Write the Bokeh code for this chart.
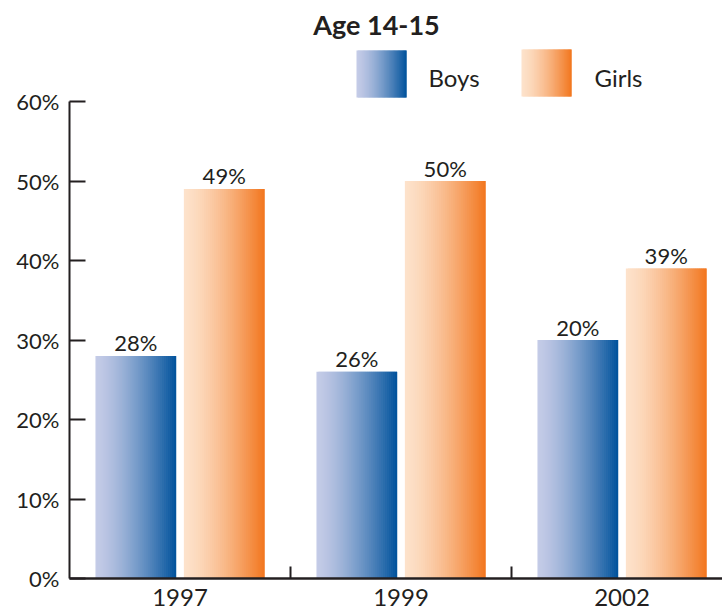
from bokeh.plotting import figure
from bokeh.models import Range1d, FixedTicker, ColumnDataSource
from bokeh.core.properties import value
from bokeh.embed import file_html
from bokeh.resources import INLINE

# ---- data ----
years = ["1997", "1999", "2002"]
boys = [28, 26, 30]
girls = [49, 50, 39]
boys_labels = ["28%", "26%", "20%"]
girls_labels = ["49%", "50%", "39%"]
y_ticks = [0, 10, 20, 30, 40, 50, 60]
y_tick_labels = ["0%", "10%", "20%", "30%", "40%", "50%", "60%"]
series_names = ["Boys", "Girls"]
title_text = "Age 14-15"

# ---- layout / style ----
FONT = "Lato"
TXT = "#231f20"
W, H = 722, 613
LEFT, BOTTOM = 69, 35
PX_X, PX_Y = 221.0, 7.95          # pixels per data unit
ORIGIN_X, ORIGIN_Y = 69, 578       # page pixel of data (0, 0)
BAR_W = 0.365
DODGE = 0.2
N = 40
BOY_C = ((196, 203, 231), (0, 82, 156))
GIRL_C = ((253, 226, 203), (242, 118, 30))
GAMMA = 1.4
BASE_FIX = 8                       # baseline correction in px


def dx(px):
    return (px - ORIGIN_X) / PX_X


def dy(py):
    return (ORIGIN_Y - py) / PX_Y


def mix(c0, c1, t):
    t = t ** GAMMA
    return "#%02x%02x%02x" % tuple(int(round(a + (b - a) * t)) for a, b in zip(c0, c1))


x_end = (W - LEFT) / PX_X
y_end = (H - BOTTOM) / PX_Y

p = figure(width=W, height=H, output_backend="svg", toolbar_location=None,
           x_range=Range1d(0, x_end), y_range=Range1d(0, y_end),
           min_border_left=LEFT, min_border_right=0, min_border_top=0,
           min_border_bottom=BOTTOM, background_fill_color="white",
           border_fill_color="white")
p.outline_line_color = None
p.xgrid.visible = False
p.ygrid.visible = False


def gradient_quads(x0, x1, y0, y1, cols):
    """x0..x1, y0..y1 in data units; returns lists for strips"""
    sw = (x1 - x0) / N
    out = []
    for k in range(N):
        l = x0 + k * sw
        r = min(x0 + (k + 2) * sw, x1)
        out.append((l, r, y1, y0, mix(cols[0], cols[1], (k + 0.5) / N)))
    return out


def draw_strips(rows):
    src = ColumnDataSource(dict(left=[r[0] for r in rows], right=[r[1] for r in rows],
                                top=[r[2] for r in rows], bottom=[r[3] for r in rows],
                                color=[r[4] for r in rows]))
    p.quad(left="left", right="right", top="top", bottom="bottom",
           fill_color="color", line_color=None, source=src)


for vals, off, cols in ((boys, -DODGE, BOY_C), (girls, DODGE, GIRL_C)):
    rows = []
    for i, v in enumerate(vals):
        c = i + 0.5 + off
        rows += gradient_quads(c - BAR_W / 2, c + BAR_W / 2, 0, v, cols)
    draw_strips(rows)

# value labels
for vals, labels, off in ((boys, boys_labels, -DODGE), (girls, girls_labels, DODGE)):
    src = ColumnDataSource(dict(x=[i + 0.5 + off for i in range(len(vals))], y=vals, t=labels))
    p.text(x="x", y="y", text="t", source=src, text_align="center",
           text_baseline="alphabetic", y_offset=-(5 + BASE_FIX), text_font=value(FONT),
           text_font_size="22px", text_color=TXT)

# legend (gradient swatches)
leg = [(series_names[0], BOY_C, 356, 406, 50, 97, 428),
       (series_names[1], GIRL_C, 521, 571, 49, 96, 594)]
for name, cols, x0, x1, y0, y1, tx in leg:
    draw_strips(gradient_quads(dx(x0), dx(x1), dy(y1), dy(y0), cols))
    p.text(x=[dx(tx)], y=[dy(85)], text=[name], text_align="left",
           text_baseline="alphabetic", y_offset=-BASE_FIX, text_font=value(FONT),
           text_font_size="24px", text_color=TXT)

# title
p.text(x=[dx(376)], y=[dy(32)], text=[title_text], text_align="center",
       text_baseline="alphabetic", y_offset=-BASE_FIX, text_font=value(FONT),
       text_font_style="bold", text_font_size="27px", text_color=TXT)

# y axis
ya = p.yaxis[0]
ya.ticker = FixedTicker(ticks=y_ticks)
ya.major_label_overrides = {t: s for t, s in zip(y_ticks, y_tick_labels)}
ya.bounds = (0, 60)
ya.axis_line_width = 2
ya.axis_line_color = TXT
ya.major_tick_in = 16
ya.major_tick_out = 0
ya.major_tick_line_width = 2
ya.major_tick_line_color = TXT
ya.minor_tick_line_color = None
ya.major_label_text_font = FONT
ya.major_label_text_font_size = "22px"
ya.major_label_text_color = TXT
ya.major_label_standoff = 10

# x axis
xa = p.xaxis[0]
centers = [i + 0.5 for i in range(len(years))]
bounds_ticks = [i + 1 for i in range(len(years) - 1)]
xa.ticker = FixedTicker(ticks=centers, minor_ticks=bounds_ticks)
xa.major_label_overrides = {c: y for c, y in zip(centers, years)}
xa.axis_line_width = 2.5
xa.axis_line_color = TXT
xa.major_tick_in = 0
xa.major_tick_out = 0
xa.major_tick_line_color = None
xa.minor_tick_in = 12
xa.minor_tick_out = 0
xa.minor_tick_line_width = 2
xa.minor_tick_line_color = TXT
xa.major_label_text_font = FONT
xa.major_label_text_font_size = "24px"
xa.major_label_text_color = TXT
xa.major_label_standoff = 10

open("out.html", "w").write(file_html(p, INLINE))
